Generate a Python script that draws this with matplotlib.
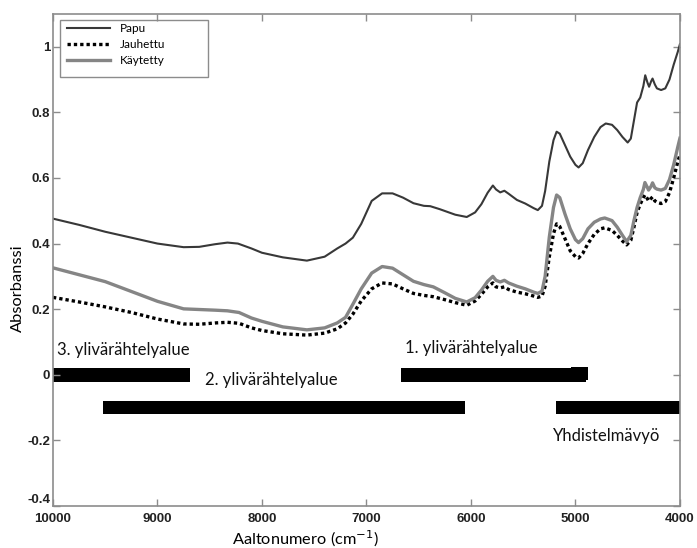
import matplotlib
matplotlib.use("Agg")
import matplotlib.pyplot as plt
from matplotlib.patches import Rectangle

# wavenumber (cm-1) and absorbance
papu_x = [10000, 9750, 9500, 9250, 9000, 8750, 8600, 8450, 8330, 8230, 8100, 8000,
          7800, 7570, 7400, 7280, 7200, 7130, 7050, 6950, 6850, 6750, 6650, 6550,
          6450, 6390, 6300, 6150, 6040, 5960, 5900, 5840, 5790, 5760, 5720, 5680,
          5640, 5560, 5480, 5400, 5360, 5320, 5290, 5250, 5210, 5180, 5150, 5100,
          5050, 5000, 4970, 4930, 4880, 4820, 4760, 4710, 4650, 4600, 4550, 4500,
          4470, 4440, 4410, 4380, 4350, 4332, 4310, 4295, 4275, 4262, 4240, 4220,
          4180, 4140, 4100, 4060, 4020, 4000]
papu_y = [0.476, 0.457, 0.436, 0.418, 0.400, 0.389, 0.390, 0.398, 0.403, 0.400, 0.385, 0.372,
          0.358, 0.348, 0.360, 0.385, 0.400, 0.418, 0.460, 0.530, 0.553, 0.553, 0.540, 0.523,
          0.515, 0.514, 0.505, 0.488, 0.481, 0.495, 0.520, 0.555, 0.577, 0.565, 0.556, 0.561,
          0.552, 0.533, 0.522, 0.508, 0.502, 0.515, 0.560, 0.650, 0.715, 0.741, 0.735, 0.700,
          0.665, 0.640, 0.632, 0.645, 0.685, 0.725, 0.755, 0.766, 0.762, 0.746, 0.725, 0.708,
          0.720, 0.775, 0.830, 0.845, 0.880, 0.913, 0.890, 0.878, 0.895, 0.903, 0.885, 0.873,
          0.868, 0.873, 0.900, 0.945, 0.985, 1.008]

other_x = [10000, 9750, 9500, 9250, 9000, 8750, 8600, 8450, 8330, 8220, 8100, 8000,
           7800, 7570, 7400, 7280, 7200, 7130, 7050, 6950, 6850, 6750, 6650, 6550,
           6450, 6360, 6250, 6150, 6040, 5960, 5900, 5840, 5790, 5760, 5720, 5680,
           5640, 5560, 5480, 5400, 5360, 5320, 5290, 5250, 5210, 5180, 5150, 5100,
           5050, 5000, 4970, 4930, 4880, 4820, 4760, 4720, 4650, 4600, 4550, 4510,
           4470, 4440, 4410, 4380, 4350, 4335, 4310, 4300, 4275, 4262, 4240, 4220,
           4180, 4140, 4100, 4060, 4020, 4000]
kaytetty_y = [0.326, 0.305, 0.284, 0.254, 0.224, 0.201, 0.199, 0.197, 0.195, 0.190, 0.173, 0.163,
              0.146, 0.137, 0.143, 0.158, 0.175, 0.215, 0.262, 0.310, 0.330, 0.325, 0.305, 0.285,
              0.275, 0.268, 0.250, 0.233, 0.222, 0.235, 0.258, 0.285, 0.300, 0.288, 0.283, 0.288,
              0.280, 0.270, 0.262, 0.252, 0.248, 0.255, 0.300, 0.420, 0.510, 0.548, 0.540, 0.490,
              0.445, 0.412, 0.403, 0.415, 0.445, 0.465, 0.475, 0.478, 0.470, 0.450, 0.425, 0.406,
              0.425, 0.470, 0.510, 0.540, 0.565, 0.586, 0.570, 0.563, 0.575, 0.585, 0.570, 0.566,
              0.563, 0.568, 0.595, 0.640, 0.695, 0.721]
jauhettu_y = [0.236, 0.222, 0.207, 0.190, 0.170, 0.155, 0.154, 0.158, 0.160, 0.157, 0.143, 0.135,
              0.125, 0.121, 0.127, 0.140, 0.158, 0.185, 0.225, 0.262, 0.280, 0.277, 0.262, 0.248,
              0.242, 0.238, 0.229, 0.220, 0.212, 0.225, 0.245, 0.268, 0.280, 0.268, 0.265, 0.268,
              0.260, 0.252, 0.247, 0.240, 0.236, 0.240, 0.270, 0.360, 0.430, 0.460, 0.452, 0.415,
              0.378, 0.360, 0.356, 0.370, 0.400, 0.428, 0.445, 0.448, 0.440, 0.425, 0.408, 0.396,
              0.410, 0.450, 0.495, 0.520, 0.540, 0.548, 0.536, 0.530, 0.538, 0.542, 0.530, 0.526,
              0.522, 0.528, 0.555, 0.600, 0.650, 0.670]

# overtone regions: (start, end, level)
regions = [(10000, 8690, 0.0), (6670, 4900, 0.0), (5040, 4880, 0.004),
           (9520, 6060, -0.1), (5185, 4000, -0.1)]
region_labels = [("3. ylivärähtelyalue", 9960, 0.077),
                 ("1. ylivärähtelyalue", 6630, 0.083),
                 ("2. ylivärähtelyalue", 8545, -0.015),
                 ("Yhdistelmävyö", 5215, -0.187)]

xticks = [10000, 9000, 8000, 7000, 6000, 5000, 4000]
yticks = [-0.4, -0.2, 0, 0.2, 0.4, 0.6, 0.8, 1]
ytick_labels = ["-0.4", "-0.2", "0", "0.2", "0.4", "0.6", "0.8", "1"]

text_font = ["Lato", "DejaVu Sans"]
tick_font = ["Liberation Sans", "DejaVu Sans"]
spine_col = "#8c8c8c"

fig = plt.figure(figsize=(6.97, 5.48), dpi=100)
ax = fig.add_axes([0.076, 0.0766, 0.8995, 0.898])

ax.plot(papu_x, papu_y, color="#383838", lw=1.5, label="Papu")
ax.plot(other_x, jauhettu_y, color="black", lw=2.4, ls=(0, (1, 0.9)), label="Jauhettu")
ax.plot(other_x, kaytetty_y, color="#858585", lw=2.4, label="Käytetty")

for x0, x1, lev in regions:
    ax.fill_between([x0, x1], lev - 0.021, lev + 0.021, color="black", lw=0)

for txt, x, y in region_labels:
    ax.text(x, y, txt, family=text_font, fontsize=12, va="center", ha="left",
            color="#111111")

ax.set_xlim(10000, 4000)
ax.set_ylim(-0.4, 1.1)
ax.set_xticks(xticks)
ax.set_xticklabels([str(t) for t in xticks])
ax.set_yticks(yticks)
ax.set_yticklabels(ytick_labels)
for lab in ax.get_xticklabels() + ax.get_yticklabels():
    lab.set_family(tick_font)
    lab.set_fontweight("bold")
    lab.set_fontsize(9.5)
    lab.set_color("#222222")
# the bottom y label sits a little above its tick, as in the original
ax.get_yticklabels()[0].set_va("bottom")

ax.tick_params(direction="in", top=True, right=True, length=5, width=1,
               color=spine_col, pad=2)
ax.tick_params(axis="x", pad=5)
for sp in ax.spines.values():
    sp.set_color(spine_col)
    sp.set_linewidth(1.2)

# axis titles sit off-centre in the original
fig.text(305 / 697, 1 - 539 / 548, "Aaltonumero (cm$^{-1}$)", family=text_font,
         fontsize=11.8, ha="center", va="center")
fig.text(18 / 697, 1 - 288 / 548, "Absorbanssi", family=text_font, fontsize=11.8,
         ha="center", va="center", rotation=90)

leg = ax.legend(loc="upper left", bbox_to_anchor=(67 / 697, 1 - 23 / 548),
                bbox_transform=fig.transFigure, borderaxespad=0, borderpad=0,
                prop={"family": text_font, "size": 8.5}, handlelength=3.6,
                handletextpad=0.9, frameon=False, labelspacing=0.42)
fig.patches.append(Rectangle((60 / 697, 1 - 77 / 548), 148 / 697, 57 / 548,
                             transform=fig.transFigure, fill=False,
                             edgecolor=spine_col, lw=1.0))

fig.savefig("out.png", dpi=100)
